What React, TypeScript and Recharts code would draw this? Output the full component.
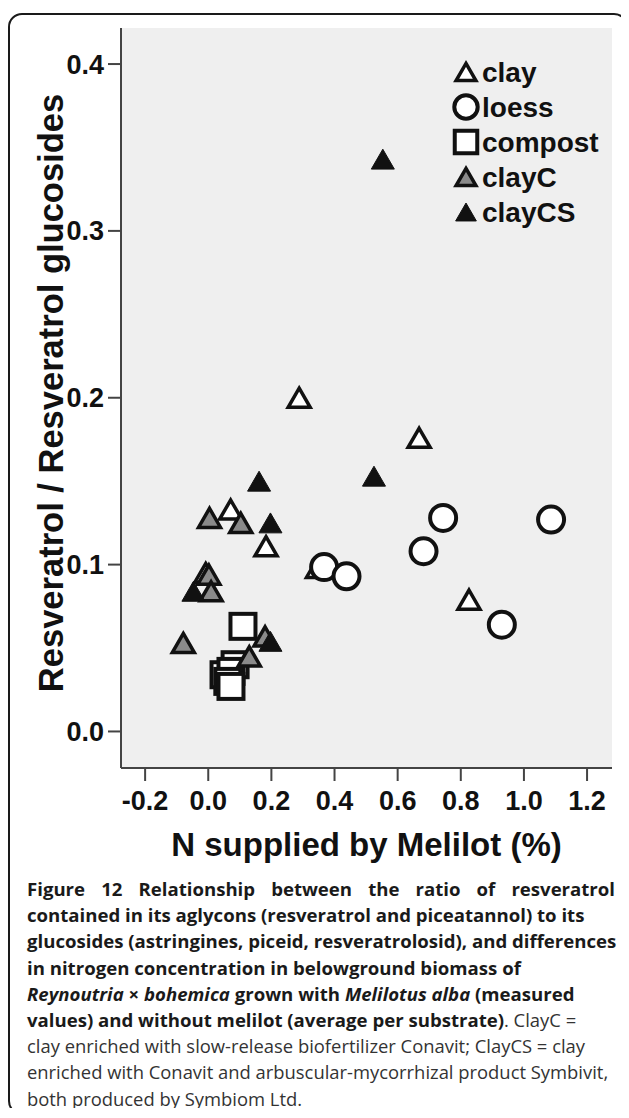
import React from 'react';
import { ScatterChart, Scatter, XAxis, YAxis, CartesianGrid, Legend } from 'recharts';

// values (x = N supplied by Melilot, y = ratio)
const clay = [
  { x: 0.288, y: 0.2 },
  { x: 0.668, y: 0.176 },
  { x: 0.071, y: 0.133 },
  { x: 0.183, y: 0.111 },
  { x: -0.008, y: 0.095 },
  { x: 0.346, y: 0.098 },
  { x: 0.826, y: 0.079 },
];
const loess = [
  { x: 0.744, y: 0.128 },
  { x: 1.086, y: 0.127 },
  { x: 0.682, y: 0.108 },
  { x: 0.367, y: 0.0985 },
  { x: 0.438, y: 0.093 },
  { x: 0.93, y: 0.064 },
];
const compost = [
  { x: 0.11, y: 0.063 },
  { x: 0.085, y: 0.04 },
  { x: 0.05, y: 0.034 },
  { x: 0.072, y: 0.036 },
  { x: 0.062, y: 0.03 },
  { x: 0.072, y: 0.027 },
];
const clayC = [
  { x: 0.004, y: 0.128 },
  { x: 0.103, y: 0.125 },
  { x: 0.002, y: 0.094 },
  { x: 0.009, y: 0.084 },
  { x: -0.079, y: 0.053 },
  { x: 0.18, y: 0.057 },
  { x: 0.13, y: 0.045 },
];
const clayCS = [
  { x: 0.553, y: 0.343 },
  { x: 0.161, y: 0.15 },
  { x: 0.525, y: 0.153 },
  { x: 0.197, y: 0.125 },
  { x: -0.047, y: 0.084 },
  { x: 0.197, y: 0.054 },
];

const xTicks = [-0.2, 0, 0.2, 0.4, 0.6, 0.8, 1.0, 1.2];
const yTicks = [0, 0.1, 0.2, 0.3, 0.4];

const FONT = '"Liberation Sans", Arial, Helvetica, sans-serif';
const INK = '#111';
const AXIS = '#444';
const GRAY = '#8a8a8a';

const tri = (cx: number, cy: number, side: number) => {
  const h = (side * Math.sqrt(3)) / 2;
  return `M${cx},${cy - h / 2}L${cx + side / 2},${cy + h / 2}L${cx - side / 2},${cy + h / 2}Z`;
};

const OpenTri = ({ cx, cy, k = 1 }: any) => (
  <path d={tri(cx, cy, 22 * k)} fill="#fff" stroke={INK} strokeWidth={3.5} strokeLinejoin="miter" />
);
const GrayTri = ({ cx, cy, k = 1 }: any) => (
  <path d={tri(cx, cy, 22 * k)} fill={GRAY} stroke={INK} strokeWidth={3.5} strokeLinejoin="miter" />
);
const BlackTri = ({ cx, cy, k = 1 }: any) => (
  <path d={tri(cx, cy, 23 * k)} fill={INK} stroke={INK} strokeWidth={1} />
);
const Ring = ({ cx, cy, k = 1 }: any) => (
  <circle cx={cx} cy={cy} r={13 * k} fill="#fff" stroke={INK} strokeWidth={4} />
);
const Box = ({ cx, cy, k = 1 }: any) => (
  <rect x={cx - 12.5 * k} y={cy - 12.5 * k} width={25 * k} height={25 * k} fill="#fff" stroke={INK} strokeWidth={4} />
);

const series = [
  { name: 'clay', data: clay, Marker: OpenTri },
  { name: 'loess', data: loess, Marker: Ring },
  { name: 'compost', data: compost, Marker: Box },
  { name: 'clayC', data: clayC, Marker: GrayTri },
  { name: 'clayCS', data: clayCS, Marker: BlackTri },
];

const renderLegend = () => (
  <svg width={170} height={180} style={{ display: 'block' }}>
    {series.map((s, i) => {
      const M = s.Marker;
      const cy = 20 + i * 35;
      return (
        <g key={s.name}>
          <M cx={18} cy={cy} k={0.9} />
          <text x={34} y={cy} dy="0.36em" fontSize={28} fontWeight="bold" fontFamily={FONT} fill={INK}>
            {s.name}
          </text>
        </g>
      );
    })}
  </svg>
);

const XTitle = (props: any) => {
  const vb = props.viewBox;
  return (
    <text x={vb.x + vb.width / 2} y={vb.y + 88} textAnchor="middle" fontSize={33} fontWeight="bold" fontFamily={FONT} fill={INK}>
      N supplied by Melilot (%)
    </text>
  );
};

const YTitle = (props: any) => {
  const vb = props.viewBox;
  const cx = vb.x + 55;
  const cy = vb.y + vb.height / 2 - 5;
  return (
    <text x={cx} y={cy} transform={`rotate(-90, ${cx}, ${cy})`} textAnchor="middle" fontSize={34.5} fontWeight="bold" fontFamily={FONT} fill={INK}>
      Resveratrol / Resveratrol glucosides
    </text>
  );
};

const tickStyle = { fontSize: 27, fontWeight: 'bold', fontFamily: FONT, fill: INK };
const fmt = (v: number) => v.toFixed(1);

const capLine: React.CSSProperties = { whiteSpace: 'nowrap', height: 26.2 };
const bold: React.CSSProperties = { ...capLine, fontWeight: 700, fontSize: 18.6 };
const plain: React.CSSProperties = { ...capLine, fontSize: 18.4, color: '#333' };

export default function App() {
  return (
    <div style={{ position: 'relative', width: 612, height: 1100 }}>
      <div
        style={{
          position: 'absolute',
          left: 0,
          top: 5,
          width: 620,
          height: 1102,
          boxSizing: 'border-box',
          border: '2px solid #1a1a1a',
          borderRadius: 14,
        }}
      />
      <div style={{ position: 'absolute', left: 0, top: 0 }}>
        <ScatterChart width={612} height={870} margin={{ top: 20, right: 8, bottom: 0, left: 0 }}>
          <CartesianGrid horizontal={false} vertical={false} fill="#efefef" />
          <XAxis
            type="number"
            dataKey="x"
            domain={[-0.2764, 1.279]}
            allowDataOverflow
            ticks={xTicks}
            tickFormatter={fmt}
            height={110}
            tickSize={13}
            tickMargin={10}
            tick={tickStyle}
            axisLine={{ stroke: AXIS, strokeWidth: 2 }}
            tickLine={{ stroke: AXIS, strokeWidth: 2 }}
            label={<XTitle />}
          />
          <YAxis
            type="number"
            dataKey="y"
            domain={[-0.0219, 0.4216]}
            allowDataOverflow
            ticks={yTicks}
            tickFormatter={fmt}
            width={113}
            tickSize={13}
            tickMargin={4}
            tick={tickStyle}
            axisLine={{ stroke: AXIS, strokeWidth: 2 }}
            tickLine={{ stroke: AXIS, strokeWidth: 2 }}
            label={<YTitle />}
          />
          <XAxis xAxisId="top" orientation="top" type="number" domain={[-0.2764, 1.279]} height={0} tick={false} tickLine={false} axisLine={{ stroke: AXIS, strokeWidth: 2 }} />
          <YAxis yAxisId="right" orientation="right" type="number" domain={[-0.0219, 0.4216]} width={0} tick={false} tickLine={false} axisLine={{ stroke: AXIS, strokeWidth: 2 }} />
          {series.map((s) => {
            const M = s.Marker;
            return (
              <Scatter
                key={s.name}
                name={s.name}
                data={s.data}
                isAnimationActive={false}
                shape={(p: any) => <M cx={p.cx} cy={p.cy} />}
              />
            );
          })}
          <Legend
            layout="vertical"
            align="center"
            verticalAlign="middle"
            content={renderLegend}
            wrapperStyle={{ position: 'absolute', left: 440, top: 44, width: 170, height: 180 }}
          />
        </ScatterChart>
      </div>
      <div
        style={{
          position: 'absolute',
          left: 19,
          top: 868,
          fontFamily: '"Open Sans", "Noto Sans", sans-serif',
          lineHeight: '26.2px',
          color: '#1a1a1a',
        }}
      >
        <div style={{ ...bold, width: 588, textAlign: 'justify', textAlignLast: 'justify' }}>
          Figure 12 Relationship between the ratio of resveratrol
        </div>
        <div style={bold}>contained in its aglycons (resveratrol and piceatannol) to its</div>
        <div style={bold}>glucosides (astringines, piceid, resveratrolosid), and differences</div>
        <div style={bold}>in nitrogen concentration in belowground biomass of</div>
        <div style={bold}>
          <i>Reynoutria</i> × <i>bohemica</i> grown with <i>Melilotus alba</i> (measured
        </div>
        <div style={bold}>
          values) and without melilot (average per substrate)
          <span style={{ fontWeight: 400, fontSize: 18.4, color: '#333' }}>. ClayC =</span>
        </div>
        <div style={plain}>clay enriched with slow-release biofertilizer Conavit; ClayCS = clay</div>
        <div style={plain}>enriched with Conavit and arbuscular-mycorrhizal product Symbivit,</div>
        <div style={plain}>both produced by Symbiom Ltd.</div>
      </div>
    </div>
  );
}
